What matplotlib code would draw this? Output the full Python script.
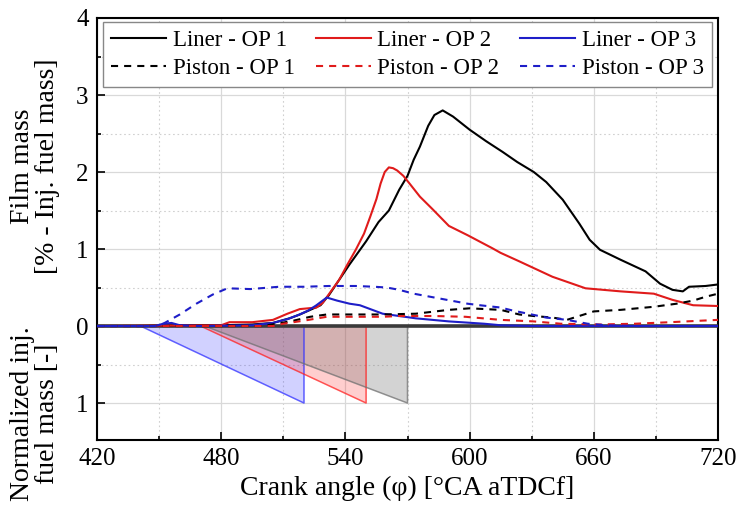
import matplotlib
matplotlib.use("Agg")
import matplotlib.pyplot as plt
from matplotlib.ticker import MultipleLocator, FuncFormatter

plt.rcParams['font.family'] = ['Liberation Serif', 'DejaVu Serif']

# ---------------- data ----------------
liner1_x = [420, 440, 460, 480, 495, 505, 513, 518, 523, 528, 532, 536, 542, 550, 556, 561, 566, 570, 573, 576,
            580, 583, 587, 592, 600, 608, 616, 623, 631, 637, 645, 653, 658, 663, 673, 685, 692, 698, 703, 706, 714, 720]
liner1_y = [0, 0, 0.01, 0.01, 0.02, 0.04, 0.1, 0.15, 0.21, 0.27, 0.4, 0.56, 0.8, 1.1, 1.35, 1.5, 1.77, 1.95, 2.16, 2.33,
            2.6, 2.74, 2.8, 2.72, 2.55, 2.4, 2.26, 2.13, 2.0, 1.87, 1.64, 1.33, 1.12, 0.99, 0.86, 0.71, 0.55, 0.47, 0.45, 0.51, 0.52, 0.54]

liner2_x = [420, 480, 484, 495, 505, 512, 518, 526, 529, 533, 537, 541, 545, 549, 552, 555, 557, 559, 561, 563,
            565, 568, 571, 576, 582, 590, 599, 611, 615, 624, 640, 656, 673, 689, 698, 708, 720]
liner2_y = [0, 0.01, 0.05, 0.05, 0.08, 0.16, 0.22, 0.24, 0.3, 0.45, 0.6, 0.8, 0.99, 1.2, 1.42, 1.65, 1.85, 2.0, 2.06, 2.05,
            2.02, 1.95, 1.85, 1.68, 1.52, 1.3, 1.18, 1.01, 0.95, 0.84, 0.64, 0.49, 0.45, 0.42, 0.34, 0.27, 0.26]

liner3_x = [420, 448, 452, 456, 460, 470, 495, 505, 512, 517, 522, 526, 531, 536, 542, 547, 552, 558, 566, 574,
            590, 607, 615, 630, 720]
liner3_y = [0, 0, 0.03, 0.04, 0.01, 0, 0.01, 0.04, 0.09, 0.14, 0.2, 0.27, 0.37, 0.33, 0.29, 0.27, 0.22, 0.16, 0.13, 0.1,
            0.06, 0.03, 0.01, 0, 0]

piston1_x = [420, 500, 507, 515, 523, 531, 545, 558, 574, 590, 600, 615, 624, 631, 640, 647, 660, 673, 689, 700, 708, 714, 720]
piston1_y = [0, 0, 0.03, 0.07, 0.12, 0.15, 0.15, 0.15, 0.16, 0.21, 0.23, 0.21, 0.15, 0.13, 0.11, 0.08, 0.19, 0.21, 0.25, 0.29, 0.33, 0.38, 0.42]

piston2_x = [420, 505, 510, 520, 531, 558, 566, 583, 598, 615, 631, 644, 663, 680, 697, 720]
piston2_y = [0, 0, 0.03, 0.07, 0.12, 0.12, 0.13, 0.13, 0.12, 0.08, 0.06, 0.03, 0.02, 0.03, 0.05, 0.08]

piston3_x = [420, 448, 452, 460, 468, 476, 483, 494, 508, 520, 532, 545, 554, 560, 566, 573, 583, 589, 599, 605,
             615, 621, 630, 637, 647, 657, 666, 680, 720]
piston3_y = [0, 0, 0.03, 0.15, 0.29, 0.41, 0.49, 0.48, 0.51, 0.51, 0.52, 0.52, 0.51, 0.5, 0.47, 0.42, 0.37, 0.34, 0.29, 0.27,
             0.24, 0.2, 0.15, 0.11, 0.08, 0.03, 0.01, 0, 0]

# normalized injected fuel mass ramps (0 -> 1), drawn downward
inj_labels = ['OP 3', 'OP 2', 'OP 1']
inj_start = [441, 470, 472]
inj_end = [520, 550, 570]
inj_colors = ['#3030ff', '#ff2020', '#707070']
inj_alpha = [0.22, 0.22, 0.3]

x_ticks = [420, 480, 540, 600, 660, 720]
y_ticks = [-1, 0, 1, 2, 3, 4]

# ---------------- figure ----------------
fig = plt.figure(figsize=(7.42, 5.13), dpi=100)
ax = fig.add_axes([97/742, 1-440/513, (718-97)/742, (440-18)/513])

ax.set_xlim(420, 720)
ax.set_ylim(-1.48, 4)

ax.xaxis.set_minor_locator(MultipleLocator(30))
ax.set_xticks(x_ticks)
ax.yaxis.set_minor_locator(MultipleLocator(0.5))
ax.set_yticks(y_ticks)
ax.yaxis.set_major_formatter(FuncFormatter(lambda v, p: f"{abs(int(round(v)))}"))

ax.grid(True, which='major', color='#d9d9d9', linestyle='-', linewidth=0.9)
ax.grid(True, which='minor', color='#d0d0d0', linestyle=(0, (1.5, 2.5)), linewidth=0.8)
ax.set_axisbelow(True)

ax.tick_params(which='both', direction='in', top=False, right=False, labelsize=18, width=1.2)
ax.tick_params(which='major', length=6, pad=6)
ax.tick_params(which='minor', length=3)
for s in ax.spines.values():
    s.set_linewidth(1.5)
    s.set_color('black')

# injection triangles
for xs, xe, c, a in zip(inj_start, inj_end, inj_colors, inj_alpha):
    ax.fill([xs, xe, xe], [0, -1, 0], facecolor=c, alpha=a, edgecolor='none', zorder=2)
    ax.plot([xs, xe, xe], [0, -1, 0], color=c, alpha=0.75, lw=1.1, zorder=2.5)

ax.axhline(0, color='#3a3a3a', lw=2.6, zorder=3)

dash = (0, (3.4, 2.9))
ax.plot(liner1_x, liner1_y, color='black', lw=1.5, label='Liner - OP 1', zorder=4)
ax.plot(liner2_x, liner2_y, color='#e01b1b', lw=1.5, label='Liner - OP 2', zorder=4)
ax.plot(liner3_x, liner3_y, color='#1e1ec8', lw=1.5, label='Liner - OP 3', zorder=4)
ax.plot(piston1_x, piston1_y, color='black', lw=1.5, ls=dash, label='Piston - OP 1', zorder=4)
ax.plot(piston2_x, piston2_y, color='#e01b1b', lw=1.5, ls=dash, label='Piston - OP 2', zorder=4)
ax.plot(piston3_x, piston3_y, color='#1e1ec8', lw=1.5, ls=dash, label='Piston - OP 3', zorder=4)

h, l = ax.get_legend_handles_labels()
order = [0, 3, 1, 4, 2, 5]
leg = ax.legend([h[i] for i in order], [l[i] for i in order], ncol=3, fontsize=16.5,
                loc='upper left', bbox_to_anchor=(6/621, 0.841, 609/621, 1-4/422-0.841), mode='expand',
                fancybox=False, edgecolor='#888888', framealpha=1, handlelength=2.4, handletextpad=0.3,
                borderaxespad=0, labelspacing=0.3, borderpad=0.35, columnspacing=1.0)
leg.get_frame().set_linewidth(1.0)

ax.set_xlabel('Crank angle (φ) [°CA aTDCf]', fontsize=20, labelpad=4)

fig.text(35/742, 1-166/513, 'Film mass\n[% - Inj. fuel mass]', rotation=90, ha='center', va='center',
         multialignment='center', fontsize=20, linespacing=1.05)
fig.text(35/742, 1-414/513, 'Normalized inj.\nfuel mass [-]', rotation=90, ha='center', va='center',
         multialignment='center', fontsize=20, linespacing=1.05)

fig.savefig('out.png', dpi=100)
